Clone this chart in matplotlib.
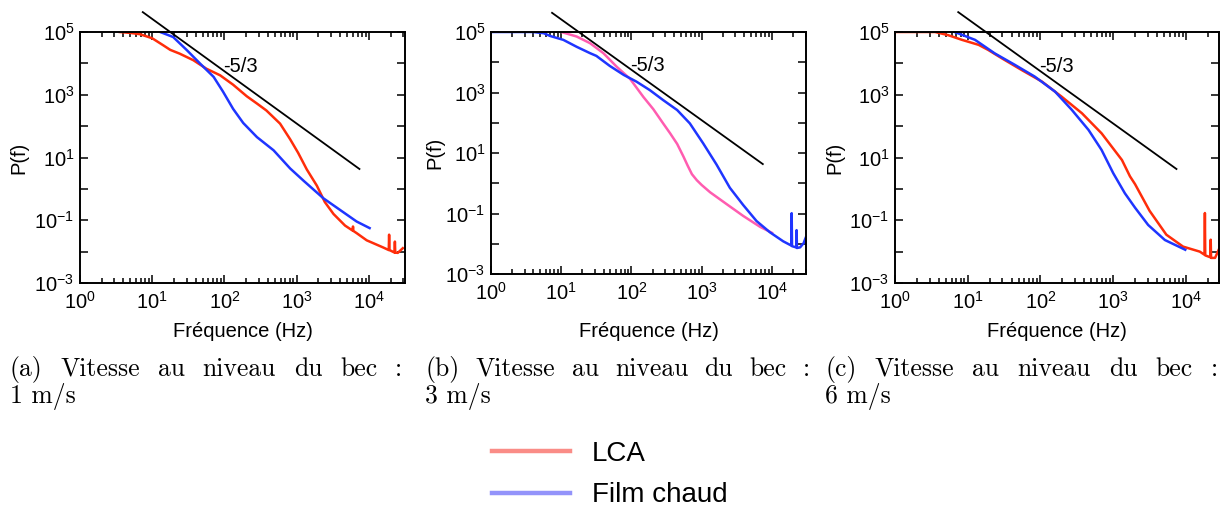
import matplotlib
matplotlib.use('Agg')
import matplotlib.pyplot as plt
import numpy as np
from matplotlib.ticker import FixedLocator, LogLocator, FuncFormatter, NullFormatter
from matplotlib.lines import Line2D

plt.rcParams['font.family'] = ['Liberation Sans', 'DejaVu Sans']
plt.rcParams['mathtext.fontset'] = 'custom'
plt.rcParams['mathtext.rm'] = 'Liberation Sans'
plt.rcParams['mathtext.it'] = 'Liberation Sans:italic'
plt.rcParams['mathtext.bf'] = 'Liberation Sans:bold'

# Data, as log10(f) and log10(P)
# (a) 1 m/s
a_red_logf = [0.55, 0.70, 0.83, 1.00, 1.15, 1.25, 1.38, 1.57, 1.75, 1.94, 2.12, 2.31, 2.45, 2.58,
              2.77, 2.91, 3.02, 3.14, 3.28, 3.39, 3.51, 3.67, 3.775, 3.78, 3.785, 3.83, 3.97,
              4.06, 4.20, 4.275, 4.28, 4.285, 4.355, 4.36, 4.365, 4.40, 4.47]
a_red_logp = [5.00, 4.97, 4.93, 4.80, 4.58, 4.43, 4.31, 4.10, 3.83, 3.62, 3.32, 2.95, 2.72, 2.50,
              2.08, 1.58, 1.15, 0.62, 0.10, -0.42, -0.80, -1.17, -1.33, -1.20, -1.34, -1.41, -1.64,
              -1.73, -1.87, -1.95, -1.46, -1.95, -2.03, -1.68, -2.03, -2.04, -1.89]
a_blue_logf = [1.11, 1.29, 1.48, 1.66, 1.85, 1.98, 2.12, 2.26, 2.45, 2.68, 2.91, 3.10, 3.37,
               3.60, 3.83, 4.01]
a_blue_logp = [5.00, 4.84, 4.42, 4.00, 3.57, 3.10, 2.55, 2.10, 1.65, 1.23, 0.65, 0.25, -0.30,
               -0.67, -1.04, -1.25]

# (b) 3 m/s
b_blue_logf = [0.00, 0.60, 0.75, 0.84, 1.03, 1.22, 1.41, 1.50, 1.69, 1.89, 2.07, 2.26, 2.45,
               2.65, 2.83, 3.02, 3.21, 3.40, 3.59, 3.78, 3.97, 4.16, 4.275, 4.28, 4.285,
               4.345, 4.35, 4.355, 4.40, 4.45, 4.48]
b_blue_logp = [5.00, 5.00, 4.96, 4.87, 4.74, 4.51, 4.30, 4.21, 3.88, 3.58, 3.36, 3.08, 2.75,
               2.42, 1.98, 1.32, 0.62, -0.15, -0.72, -1.25, -1.62, -1.92, -2.06, -0.99,
               -2.08, -2.12, -1.55, -2.14, -2.12, -1.98, -1.80]
b_pink_logf = [1.00, 1.22, 1.41, 1.60, 1.79, 1.98, 2.17, 2.31, 2.45, 2.55, 2.65, 2.74, 2.80,
               2.86, 2.93, 3.00, 3.12, 3.36, 3.59, 3.83, 4.00]
b_pink_logp = [5.00, 4.85, 4.63, 4.30, 3.85, 3.45, 2.85, 2.45, 1.98, 1.65, 1.30, 0.88, 0.58,
               0.30, 0.10, -0.06, -0.30, -0.70, -1.08, -1.44, -1.64]

# (c) 6 m/s
c_red_logf = [0.00, 0.55, 0.73, 0.92, 1.15, 1.28, 1.47, 1.74, 2.02, 2.29, 2.57, 2.84, 3.12,
              3.23, 3.30, 3.50, 3.73, 3.96, 4.19, 4.255, 4.26, 4.265, 4.335, 4.34, 4.345, 4.40,
              4.45]
c_red_logp = [5.00, 5.00, 4.90, 4.75, 4.59, 4.43, 4.16, 3.79, 3.42, 2.94, 2.41, 1.77, 0.92,
              0.40, 0.15, -0.70, -1.46, -1.84, -2.00, -2.10, -0.77, -2.12, -2.18, -1.62, -2.20,
              -2.20, -1.94]
c_blue_logf = [0.82, 1.10, 1.37, 1.65, 1.92, 2.20, 2.43, 2.66, 2.84, 3.00, 3.16, 3.30, 3.48,
               3.71, 3.99]
c_blue_logp = [5.00, 4.75, 4.32, 3.95, 3.58, 3.10, 2.52, 1.88, 1.24, 0.50, -0.14, -0.60, -1.15,
               -1.63, -1.94]

# -5/3 reference line end points
ref_f = [7.4, 7400]
ref_p = [4.3e5, 4.3]

captions = [("(a) Vitesse au niveau du bec :", "1 m/s"),
            ("(b) Vitesse au niveau du bec :", "3 m/s"),
            ("(c) Vitesse au niveau du bec :", "6 m/s")]

red = '#ff2d0a'
blue = '#1f35ff'
pink = '#ff5cb0'

fig = plt.figure(figsize=(12.26, 5.12), dpi=100)
W, H = 1226.0, 512.0

# axes boxes in pixels: left, top, right, bottom, log10(xmax)
boxes = [(80, 32, 405, 283, 4.50), (491, 32, 806, 274, 4.484), (895, 32, 1219, 283, 4.454)]
series = [
    [(a_red_logf, a_red_logp, red), (a_blue_logf, a_blue_logp, blue)],
    [(b_pink_logf, b_pink_logp, pink), (b_blue_logf, b_blue_logp, blue)],
    [(c_red_logf, c_red_logp, red), (c_blue_logf, c_blue_logp, blue)],
]
ylab_x = [-0.189, -0.179, -0.185]

def fmt_x(v, pos):
    return r'$\mathregular{10^{%d}}$' % int(round(np.log10(v)))

def fmt_y(v, pos):
    e = int(round(np.log10(v)))
    if e % 2 == 0:
        return ''
    return r'$\mathregular{10^{%d}}$' % e

for i, (l, t, r, b, xm) in enumerate(boxes):
    ax = fig.add_axes([l / W, (H - b) / H, (r - l) / W, (b - t) / H])
    for lf, lp, col in series[i]:
        ax.plot(10 ** np.array(lf), 10 ** np.array(lp), color=col, lw=1.8)
    ax.plot(ref_f, ref_p, color='black', lw=1.3, clip_on=False)
    ax.text(95, 8e3, '-5/3', fontsize=14.5, ha='left', va='center')
    ax.set_xscale('log')
    ax.set_yscale('log')
    ax.set_xlim(1, 10 ** xm)
    ax.set_ylim(1e-3, 1e5)
    ax.xaxis.set_major_locator(FixedLocator([1, 10, 100, 1000, 10000]))
    ax.xaxis.set_major_formatter(FuncFormatter(fmt_x))
    ax.xaxis.set_minor_locator(LogLocator(base=10, subs=np.arange(2, 10), numticks=20))
    ax.xaxis.set_minor_formatter(NullFormatter())
    ax.yaxis.set_major_locator(FixedLocator([10.0 ** k for k in range(-3, 6)]))
    ax.yaxis.set_major_formatter(FuncFormatter(fmt_y))
    ax.yaxis.set_minor_locator(FixedLocator([]))
    ax.tick_params(which='both', direction='in', top=True, right=True, labelsize=14.5,
                   width=1.1)
    ax.tick_params(which='major', length=6)
    ax.tick_params(which='minor', length=3.6)
    ax.tick_params(axis='x', which='major', pad=5.5)
    ax.tick_params(axis='y', which='major', pad=4)
    for sp in ax.spines.values():
        sp.set_linewidth(1.4)
    ax.set_xlabel('Fréquence (Hz)', fontsize=14.5)
    ax.set_ylabel('P(f)', fontsize=14.5)
    ax.xaxis.set_label_coords(0.5, -(331.7 - b) / (b - t))
    ax.xaxis.label.set_verticalalignment('center')
    ax.yaxis.set_label_coords(ylab_x[i], 0.5)
    ax.yaxis.label.set_verticalalignment('center')

# justified captions in a serif face
renderer = fig.canvas.get_renderer()
cap_spans = [(10, 402), (425, 810), (825, 1218)]
for (line1, line2), (x0, x1) in zip(captions, cap_spans):
    words = line1.split(' ')
    texts = [fig.text(0, (H - 376) / H, w, fontsize=18.5, family='cmr10', va='baseline')
             for w in words]
    widths = [t.get_window_extent(renderer).width for t in texts]
    gap = (x1 - x0 - sum(widths)) / (len(words) - 1)
    x = x0
    for t, w in zip(texts, widths):
        t.set_x(x / W)
        x += w + gap
    fig.text(x0 / W, (H - 403) / H, line2, fontsize=18.5, family='cmr10', va='baseline')

handles = [Line2D([], [], color='#fa8c87', lw=3.2), Line2D([], [], color='#9393fa', lw=3.2)]
fig.legend(handles, ['LCA', 'Film chaud'], loc='upper left',
           bbox_to_anchor=(492 / W, (H - 441) / H), frameon=False, fontsize=20,
           handlelength=2.8, handletextpad=0.8, labelspacing=0.55, borderpad=0,
           borderaxespad=0)

fig.savefig('out.png', dpi=100)
